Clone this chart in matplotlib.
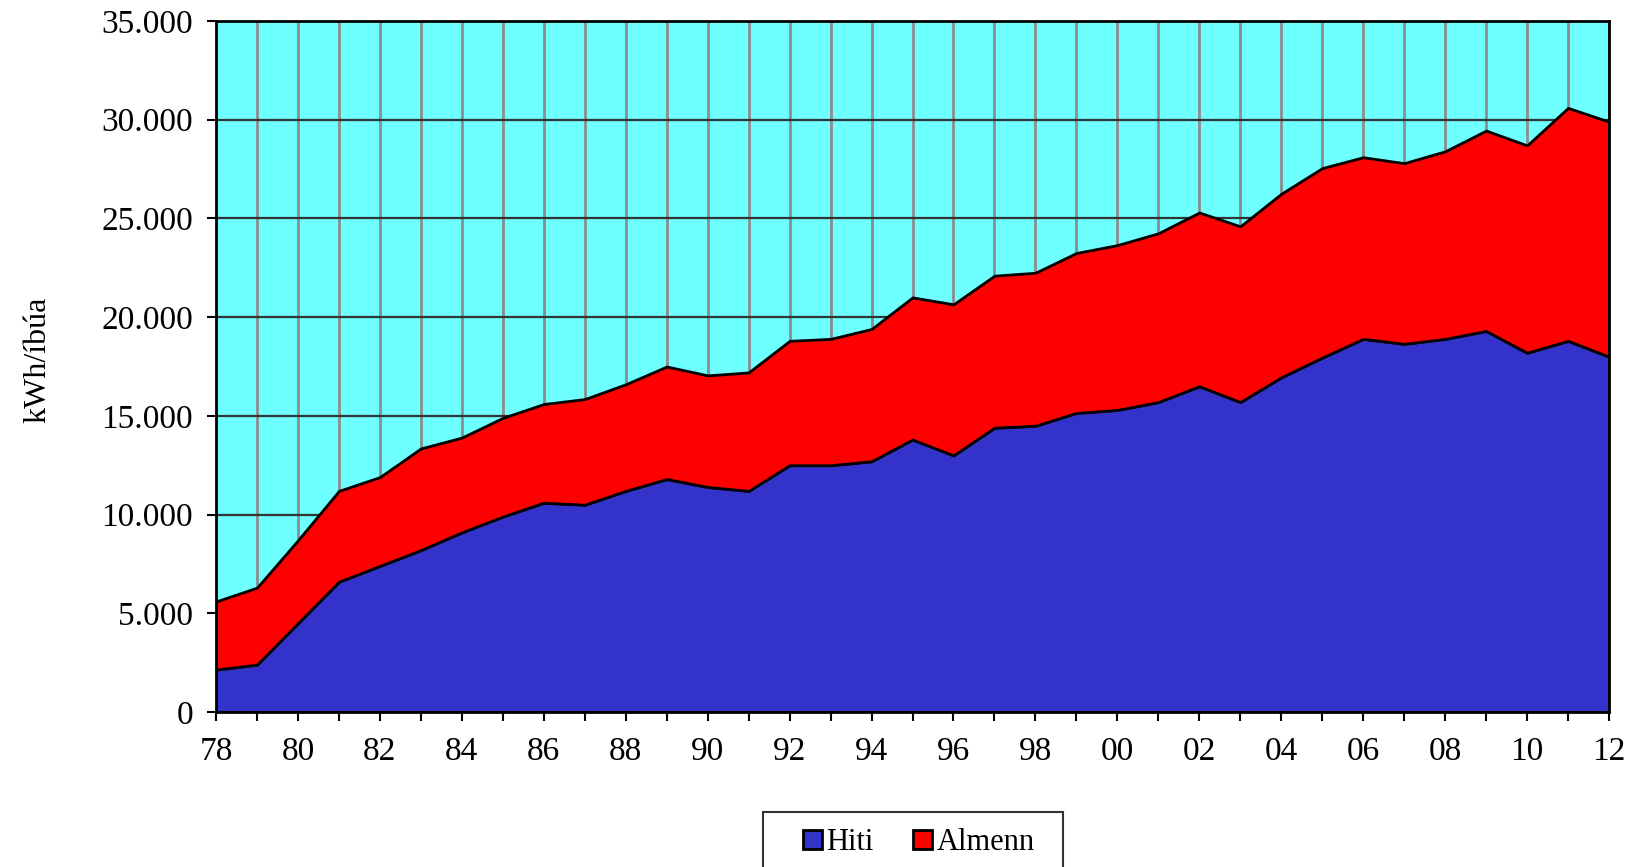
import numpy as np
import matplotlib
matplotlib.use('agg')
import matplotlib.pyplot as plt
import matplotlib.ticker as ticker
from matplotlib.patches import Patch, Rectangle

years = list(range(1978, 2013))
# heating use per dwelling (kWh)
hiti = [2150, 2400, 4500, 6600, 7400, 8200, 9100, 9900, 10600, 10500,
        11200, 11800, 11400, 11200, 12500, 12500, 12700, 13800, 13000, 14400,
        14500, 15150, 15300, 15700, 16500, 15700, 16950, 17950, 18900, 18650,
        18900, 19300, 18200, 18800, 18000]
# total per dwelling (kWh), general use = total - heating
total = [5600, 6300, 8700, 11200, 11900, 13350, 13900, 14900, 15600, 15850,
         16600, 17500, 17050, 17200, 18800, 18900, 19400, 21000, 20650, 22100,
         22250, 23250, 23650, 24250, 25300, 24600, 26250, 27550, 28100, 27800,
         28400, 29450, 28700, 30600, 29900]
almenn = [t - h for t, h in zip(total, hiti)]
series_names = ['Hiti', 'Almenn']
series_colors = ['#3333CC', '#FF0000']

plt.rcParams['font.family'] = ['Liberation Serif', 'DejaVu Serif']

fig = plt.figure(figsize=(16.35, 8.67), dpi=100)
ax = fig.add_axes([216/1635, 1-712/867, 1393/1635, 691/867])
ax.set_facecolor('#6EFFFF')

ax.stackplot(years, hiti, almenn, colors=series_colors,
             edgecolor='black', linewidth=2, zorder=3)

ax.set_xlim(1978, 2012)
ax.set_ylim(0, 35000)
ax.xaxis.set_major_locator(ticker.MultipleLocator(2))
ax.xaxis.set_minor_locator(ticker.MultipleLocator(1))
ax.xaxis.set_major_formatter(ticker.FuncFormatter(lambda v, p: '%02d' % (int(round(v)) % 100)))
ax.yaxis.set_major_locator(ticker.MultipleLocator(5000))
ax.yaxis.set_major_formatter(ticker.FuncFormatter(lambda v, p: '{:,.0f}'.format(v).replace(',', '.')))

ax.set_axisbelow(True)
ax.grid(axis='x', which='both', color='#8C8C8C', linewidth=2, zorder=1)
ax.grid(axis='y', which='major', color='#333333', linewidth=1.6, zorder=1)

ax.tick_params(axis='both', which='both', direction='out', length=6.5, width=1.5,
               labelsize=24, color='black')
ax.tick_params(axis='y', pad=10)
ax.tick_params(axis='x', pad=11)
for s in ax.spines.values():
    s.set_color('black')
    s.set_linewidth(2)
    s.set_zorder(5)

ax.set_ylabel('kWh/íbúa', fontsize=23, va='center')
ax.yaxis.set_label_coords(-0.128, 0.51)

handles = [Patch(facecolor=c, edgecolor='black', linewidth=2) for c in series_colors]
fig.legend(handles, series_names, loc='center', bbox_to_anchor=(919/1635, 1-843/867),
           ncol=2, frameon=False, fontsize=22, handlelength=0.6, handleheight=0.6,
           handletextpad=0.15, columnspacing=1.3)
fig.patches.append(Rectangle((763/1635, -0.02), 300/1635, (867-812)/867 + 0.02,
                             transform=fig.transFigure, fill=False,
                             edgecolor='#333333', linewidth=1.5))

plt.savefig('out.png', dpi=100)
plt.close()
